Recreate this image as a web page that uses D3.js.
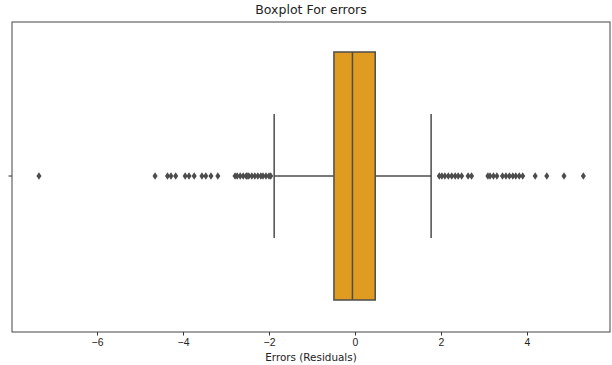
<!DOCTYPE html>
<html>
<head>
<meta charset="utf-8">
<script src="https://cdn.jsdelivr.net/npm/d3@7"></script>
<style>
  body { margin: 0; background: #fff; }
  svg { display: block; font-family: "DejaVu Sans", sans-serif; }
</style>
</head>
<body>
<div id="chart"></div>
<script>
// box statistics of the residuals
const category = ["errors"]
const boxStats = { whiskerLow: -1.88, q1: -0.49, median: -0.06, q3: 0.47, whiskerHigh: 1.77 }

// points beyond the whiskers
const lowOutliers = [-7.35, -4.65, -4.36, -4.28, -4.17, -3.95, -3.86, -3.74, -3.56, -3.47, -3.35, -3.19,
  -2.79, -2.74, -2.67, -2.60, -2.53, -2.51, -2.47, -2.40, -2.33, -2.26, -2.19, -2.14, -2.07, -2.00, -1.96]
const highOutliers = [1.96, 2.02, 2.09, 2.17, 2.25, 2.33, 2.40, 2.48, 2.63, 2.71, 3.09, 3.14, 3.22, 3.30,
  3.43, 3.51, 3.59, 3.67, 3.74, 3.82, 3.90, 4.19, 4.46, 4.86, 5.31]

const xTicks = [-6, -4, -2, 0, 2, 4]

const width = 612
const height = 365
const margin = { top: 22, right: 2, bottom: 33, left: 12 }
const boxFill = "#df9c20"
const gray = "#4c4c4c"

const svg = d3.select("#chart").append("svg")
  .attr("width", width)
  .attr("height", height)

const x = d3.scaleLinear()
  .domain([-7.977, 5.93])
  .range([margin.left, width - margin.right])

const y = d3.scaleBand()
  .domain(category)
  .range([margin.top - 1, height - margin.bottom - 1])

const boxH = y.bandwidth() * 0.8
const cy = y(category[0]) + y.bandwidth() / 2

// whiskers
const g = svg.append("g")
g.append("line")
  .attr("x1", x(boxStats.whiskerLow)).attr("x2", x(boxStats.q1))
  .attr("y1", cy).attr("y2", cy)
  .attr("stroke", gray).attr("stroke-width", 1.5)
g.append("line")
  .attr("x1", x(boxStats.q3)).attr("x2", x(boxStats.whiskerHigh))
  .attr("y1", cy).attr("y2", cy)
  .attr("stroke", gray).attr("stroke-width", 1.5)

// caps
g.selectAll(".cap")
  .data([boxStats.whiskerLow, boxStats.whiskerHigh])
  .join("line")
    .attr("class", "cap")
    .attr("x1", d => x(d)).attr("x2", d => x(d))
    .attr("y1", cy - boxH / 4).attr("y2", cy + boxH / 4)
    .attr("stroke", gray).attr("stroke-width", 1.5)

// box
g.append("rect")
  .attr("x", x(boxStats.q1))
  .attr("y", cy - boxH / 2)
  .attr("width", x(boxStats.q3) - x(boxStats.q1))
  .attr("height", boxH)
  .attr("fill", boxFill)
  .attr("stroke", gray)
  .attr("stroke-width", 1.5)

g.append("line")
  .attr("x1", x(boxStats.median)).attr("x2", x(boxStats.median))
  .attr("y1", cy - boxH / 2).attr("y2", cy + boxH / 2)
  .attr("stroke", gray).attr("stroke-width", 1.5)

// thin diamond markers
const thinDiamond = {
  draw(ctx, size) {
    const h = Math.sqrt(size) / 2
    const w = h * 0.65
    ctx.moveTo(0, -h)
    ctx.lineTo(w, 0)
    ctx.lineTo(0, h)
    ctx.lineTo(-w, 0)
    ctx.closePath()
  }
}

g.selectAll(".outlier")
  .data(lowOutliers.concat(highOutliers))
  .join("path")
    .attr("class", "outlier")
    .attr("d", d3.symbol().type(thinDiamond).size(60))
    .attr("transform", d => `translate(${x(d)},${cy})`)
    .attr("fill", gray)

// axes
const xAxis = svg.append("g")
  .attr("transform", `translate(0,${height - margin.bottom})`)
  .call(d3.axisBottom(x).tickValues(xTicks).tickSize(3.5).tickPadding(3).tickFormat(d => d3.format("")(d).replace("-", "\u2212")))
xAxis.select(".domain").remove()
xAxis.selectAll("text").attr("font-size", 10.4).attr("fill", "#222")
xAxis.selectAll("line").attr("stroke", "#333")

const yAxis = svg.append("g")
  .attr("transform", `translate(${margin.left},0)`)
  .call(d3.axisLeft(y).tickSize(3.5).tickFormat(() => ""))
yAxis.select(".domain").remove()
yAxis.selectAll("line").attr("stroke", "#333")

// frame
svg.append("rect")
  .attr("x", margin.left)
  .attr("y", margin.top)
  .attr("width", width - margin.left - margin.right)
  .attr("height", height - margin.top - margin.bottom)
  .attr("fill", "none")
  .attr("stroke", "#444")
  .attr("stroke-width", 1)

svg.append("text")
  .attr("x", (margin.left + width - margin.right) / 2)
  .attr("y", 14)
  .attr("text-anchor", "middle")
  .attr("font-size", 12.5)
  .attr("fill", "#222")
  .text("Boxplot For errors")

svg.append("text")
  .attr("x", (margin.left + width - margin.right) / 2)
  .attr("y", 361)
  .attr("text-anchor", "middle")
  .attr("font-size", 10.4)
  .attr("fill", "#222")
  .text("Errors (Residuals)")
</script>
</body>
</html>
